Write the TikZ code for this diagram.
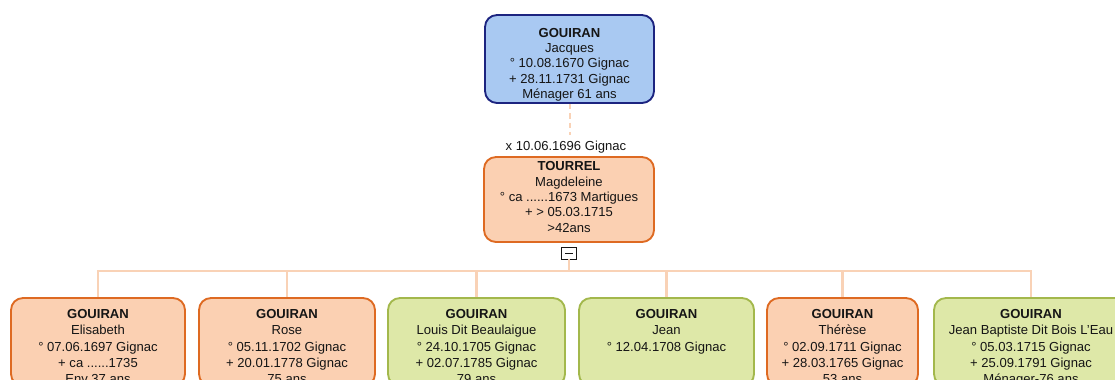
\documentclass[tikz,border=0pt]{standalone}
\usepackage{fontspec}
\setmainfont{Liberation Sans}
\usepackage{xcolor}
\definecolor{manfill}{HTML}{A9C9F2}
\definecolor{manline}{HTML}{1C2480}
\definecolor{womfill}{HTML}{FBD0B2}
\definecolor{womline}{HTML}{DE6A22}
\definecolor{sonfill}{HTML}{DEE8A8}
\definecolor{sonline}{HTML}{A3B84C}
\definecolor{tieline}{HTML}{F9D2B6}
\definecolor{ink}{HTML}{151515}

\tikzset{
  person/.style={draw, rounded corners=9pt, line width=1.4pt,
    inner sep=0pt, minimum height=66pt},
  man/.style={person, draw=manline, fill=manfill},
  wom/.style={person, draw=womline, fill=womfill},
  son/.style={person, draw=sonline, fill=sonfill},
  card/.style={anchor=north, align=center, inner sep=0pt, text=ink,
    font=\fontsize{9.8}{11.5}\selectfont},
  kidcard/.style={card, font=\fontsize{9.8}{12.2}\selectfont},
  tie/.style={draw=tieline, line width=2.2pt},
  union/.style={draw=tieline, line width=1.5pt, dash pattern=on 4pt off 3pt},
}

\begin{document}
\begin{tikzpicture}[x=0.75pt,y=0.75pt,yscale=-1,xscale=1]
\clip (0,0) rectangle (1115,379);
\useasboundingbox (0,0) rectangle (1115,379);
% parents
\node[man, minimum width=126.75pt] (jacques) at (569.5,59) {};
\node[card] at ([yshift=10.3pt]jacques.north) {\textbf{GOUIRAN}\\Jacques\\° 10.08.1670 Gignac\\+ 28.11.1731 Gignac\\Ménager 61 ans};
\node[wom, minimum width=127.5pt, minimum height=63.75pt] (magd) at (569,199.5) {};
\node[card] at ([yshift=4pt]magd.north) {\textbf{TOURREL}\\Magdeleine\\° ca ......1673 Martigues\\+ > 05.03.1715\\>42ans};
\node[card, anchor=center] (wed) at (566,147) {x 10.06.1696 Gignac};
\draw[union] (jacques.south) -- ([yshift=-4pt]wed.north -| jacques.south);
% collapse box
\node[draw=ink, fill=white, line width=0.6pt, minimum width=11.5pt, minimum height=9pt, inner sep=0pt] (minus) at (569,253) {};
\draw[ink, line width=0.7pt] ([xshift=-3pt]minus.center) -- ([xshift=3pt]minus.center);
\coordinate (bus) at (569,271);
% children
\node[wom, minimum width=130.5pt] (c1) at (98,342) {};
\node[kidcard] at ([yshift=9.2pt]c1.north) {\textbf{GOUIRAN}\\Elisabeth\\° 07.06.1697 Gignac\\+ ca ......1735\\Env 37 ans};
\node[wom, minimum width=132pt] (c2) at (287,342) {};
\node[kidcard] at ([yshift=9.2pt]c2.north) {\textbf{GOUIRAN}\\Rose\\° 05.11.1702 Gignac\\+ 20.01.1778 Gignac\\75 ans};
\node[son, minimum width=132.75pt] (c3) at (476.5,342) {};
\node[kidcard] at ([yshift=9.2pt]c3.north) {\textbf{GOUIRAN}\\Louis Dit Beaulaigue\\° 24.10.1705 Gignac\\+ 02.07.1785 Gignac\\79 ans};
\node[son, minimum width=131.25pt] (c4) at (666.5,342) {};
\node[kidcard] at ([yshift=9.2pt]c4.north) {\textbf{GOUIRAN}\\Jean\\° 12.04.1708 Gignac};
\node[wom, minimum width=113.25pt] (c5) at (842.5,342) {};
\node[kidcard] at ([yshift=9.2pt]c5.north) {\textbf{GOUIRAN}\\Thérèse\\° 02.09.1711 Gignac\\+ 28.03.1765 Gignac\\53 ans};
\node[son, minimum width=145.5pt] (c6) at (1031,342) {};
\node[kidcard] at ([yshift=9.2pt]c6.north) {\textbf{GOUIRAN}\\Jean Baptiste Dit Bois L'Eau\\° 05.03.1715 Gignac\\+ 25.09.1791 Gignac\\Ménager-76 ans};
% links
\draw[tie] (minus.south) -- (bus);
\foreach \kid in {c1,c2,c3,c4,c5,c6}
  \draw[tie] (\kid.north) |- (bus);
\end{tikzpicture}
\end{document}
